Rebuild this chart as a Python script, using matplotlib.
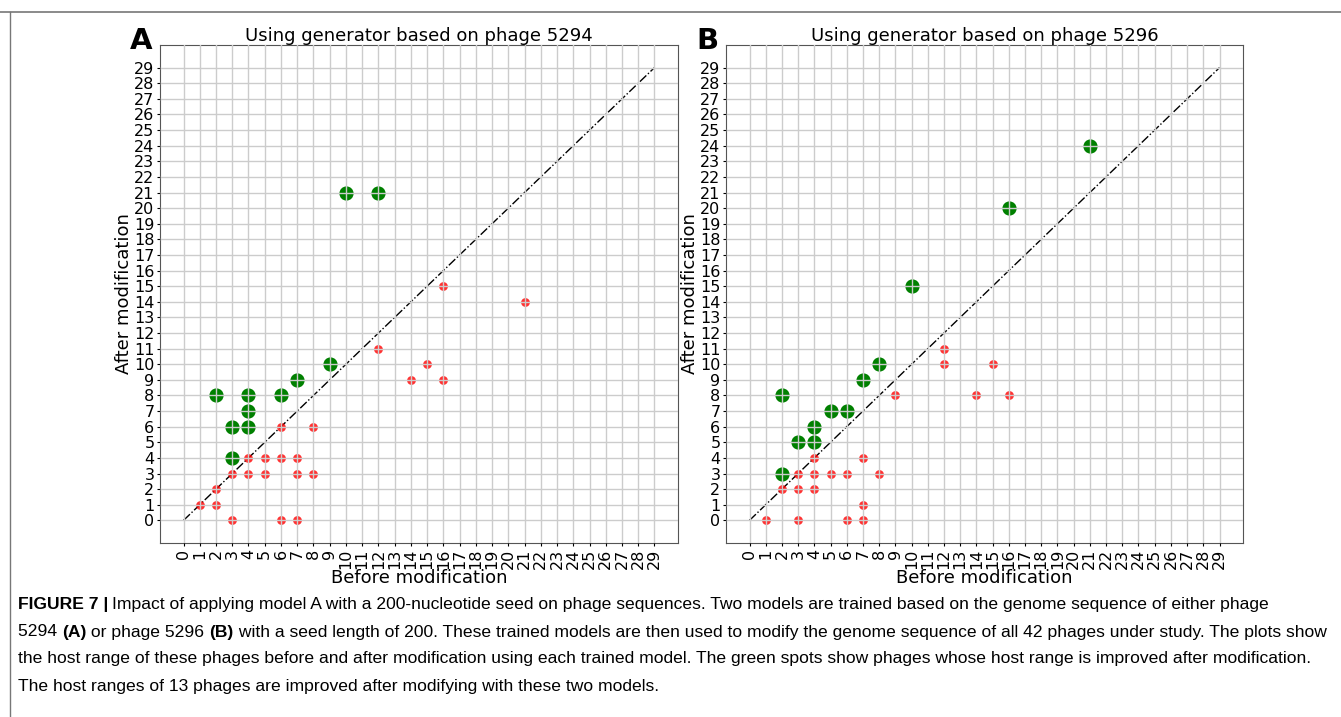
import numpy as np
import matplotlib
matplotlib.use("Agg")
import matplotlib.pyplot as plt
from matplotlib.lines import Line2D

# panel A: generator based on phage 5294
a_green_x = [2, 4, 6, 4, 3, 4, 3, 7, 9, 10, 12]
a_green_y = [8, 8, 8, 7, 6, 6, 4, 9, 10, 21, 21]
a_red_x = [6, 8, 4, 5, 6, 7, 3, 4, 5, 7, 8, 2, 1, 2, 3, 6, 7, 12, 14, 15, 16, 16, 21]
a_red_y = [6, 6, 4, 4, 4, 4, 3, 3, 3, 3, 3, 2, 1, 1, 0, 0, 0, 11, 9, 10, 9, 15, 14]

# panel B: generator based on phage 5296
b_green_x = [2, 5, 6, 4, 3, 4, 2, 7, 8, 10, 16, 21]
b_green_y = [8, 7, 7, 6, 5, 5, 3, 9, 10, 15, 20, 24]
b_red_x = [9, 4, 7, 3, 4, 5, 6, 8, 2, 3, 4, 7, 1, 3, 6, 7, 12, 12, 15, 14, 16]
b_red_y = [8, 4, 4, 3, 3, 3, 3, 3, 2, 2, 2, 1, 0, 0, 0, 0, 11, 10, 10, 8, 8]

ticks = list(range(30))

W, H = 1341, 717
fig = plt.figure(figsize=(W / 100, H / 100), dpi=100)


def panel(rect, gx, gy, rx, ry, title, letter):
    ax = fig.add_axes(rect)
    ax.plot([0, 29], [0, 29], color="black", linestyle="-.", linewidth=1.0, zorder=1)
    ax.scatter(gx, gy, s=85, color="green", zorder=2)
    ax.scatter(rx, ry, s=40, color="red", alpha=0.8, linewidths=0, zorder=2)
    ax.set_xticks(ticks)
    ax.set_yticks(ticks)
    ax.set_xticklabels([str(t) for t in ticks], rotation=90, fontsize=11.5)
    ax.set_yticklabels([str(t) for t in ticks], fontsize=11.5)
    ax.tick_params(pad=1.5, length=2.5)
    ax.grid(True, color="#cccccc", linewidth=1.0, zorder=3)
    ax.set_axisbelow(False)
    ax.set_xlabel("Before modification", fontsize=13, labelpad=0)
    ax.set_ylabel("After modification", fontsize=13, labelpad=1)
    ax.set_title(title, fontsize=13, pad=1)
    for sp in ax.spines.values():
        sp.set_color("#555555")
    ax.text(-0.015, 0.992, letter, transform=ax.transAxes, fontsize=21,
            fontweight="bold", ha="right", va="baseline")
    return ax


panel([160 / W, 1 - 543 / H, 518 / W, 498 / H], a_green_x, a_green_y, a_red_x, a_red_y,
      "Using generator based on phage 5294", "A")
panel([726 / W, 1 - 543 / H, 517 / W, 498 / H], b_green_x, b_green_y, b_red_x, b_red_y,
      "Using generator based on phage 5296", "B")

# page frame lines
fig.add_artist(Line2D([0, 1], [1 - 12 / H, 1 - 12 / H], color="#777777", linewidth=1.2))
fig.add_artist(Line2D([10 / W, 10 / W], [0, 1 - 12 / H], color="#777777", linewidth=1.0))

# caption
cap_font = "Liberation Sans"
fs = 12.6


def run(x, y, s, bold=False):
    t = fig.text(x / W, y, s, fontsize=fs, fontweight="bold" if bold else "normal",
                 family=cap_font, va="center")
    fig.canvas.draw()
    return t.get_window_extent().x1


y1 = 1 - 604 / H
xb = run(18, y1, "FIGURE 7 |", True)
run(xb + 4, y1,
    "Impact of applying model A with a 200-nucleotide seed on phage sequences. Two models are trained "
    "based on the genome sequence of either phage")
y2 = 1 - 632 / H
xb = run(18, y2, "5294 ")
xb = run(xb, y2, "(A)", True)
xb = run(xb, y2, " or phage 5296 ")
xb = run(xb, y2, "(B)", True)
run(xb, y2,
    " with a seed length of 200. These trained models are then used to modify the genome sequence "
    "of all 42 phages under study. The plots show")
run(18, 1 - 659 / H,
    "the host range of these phages before and after modification using each trained model. The green "
    "spots show phages whose host range is improved after modification.")
run(18, 1 - 687 / H,
    "The host ranges of 13 phages are improved after modifying with these two models.")

fig.savefig("out.png", dpi=100)
